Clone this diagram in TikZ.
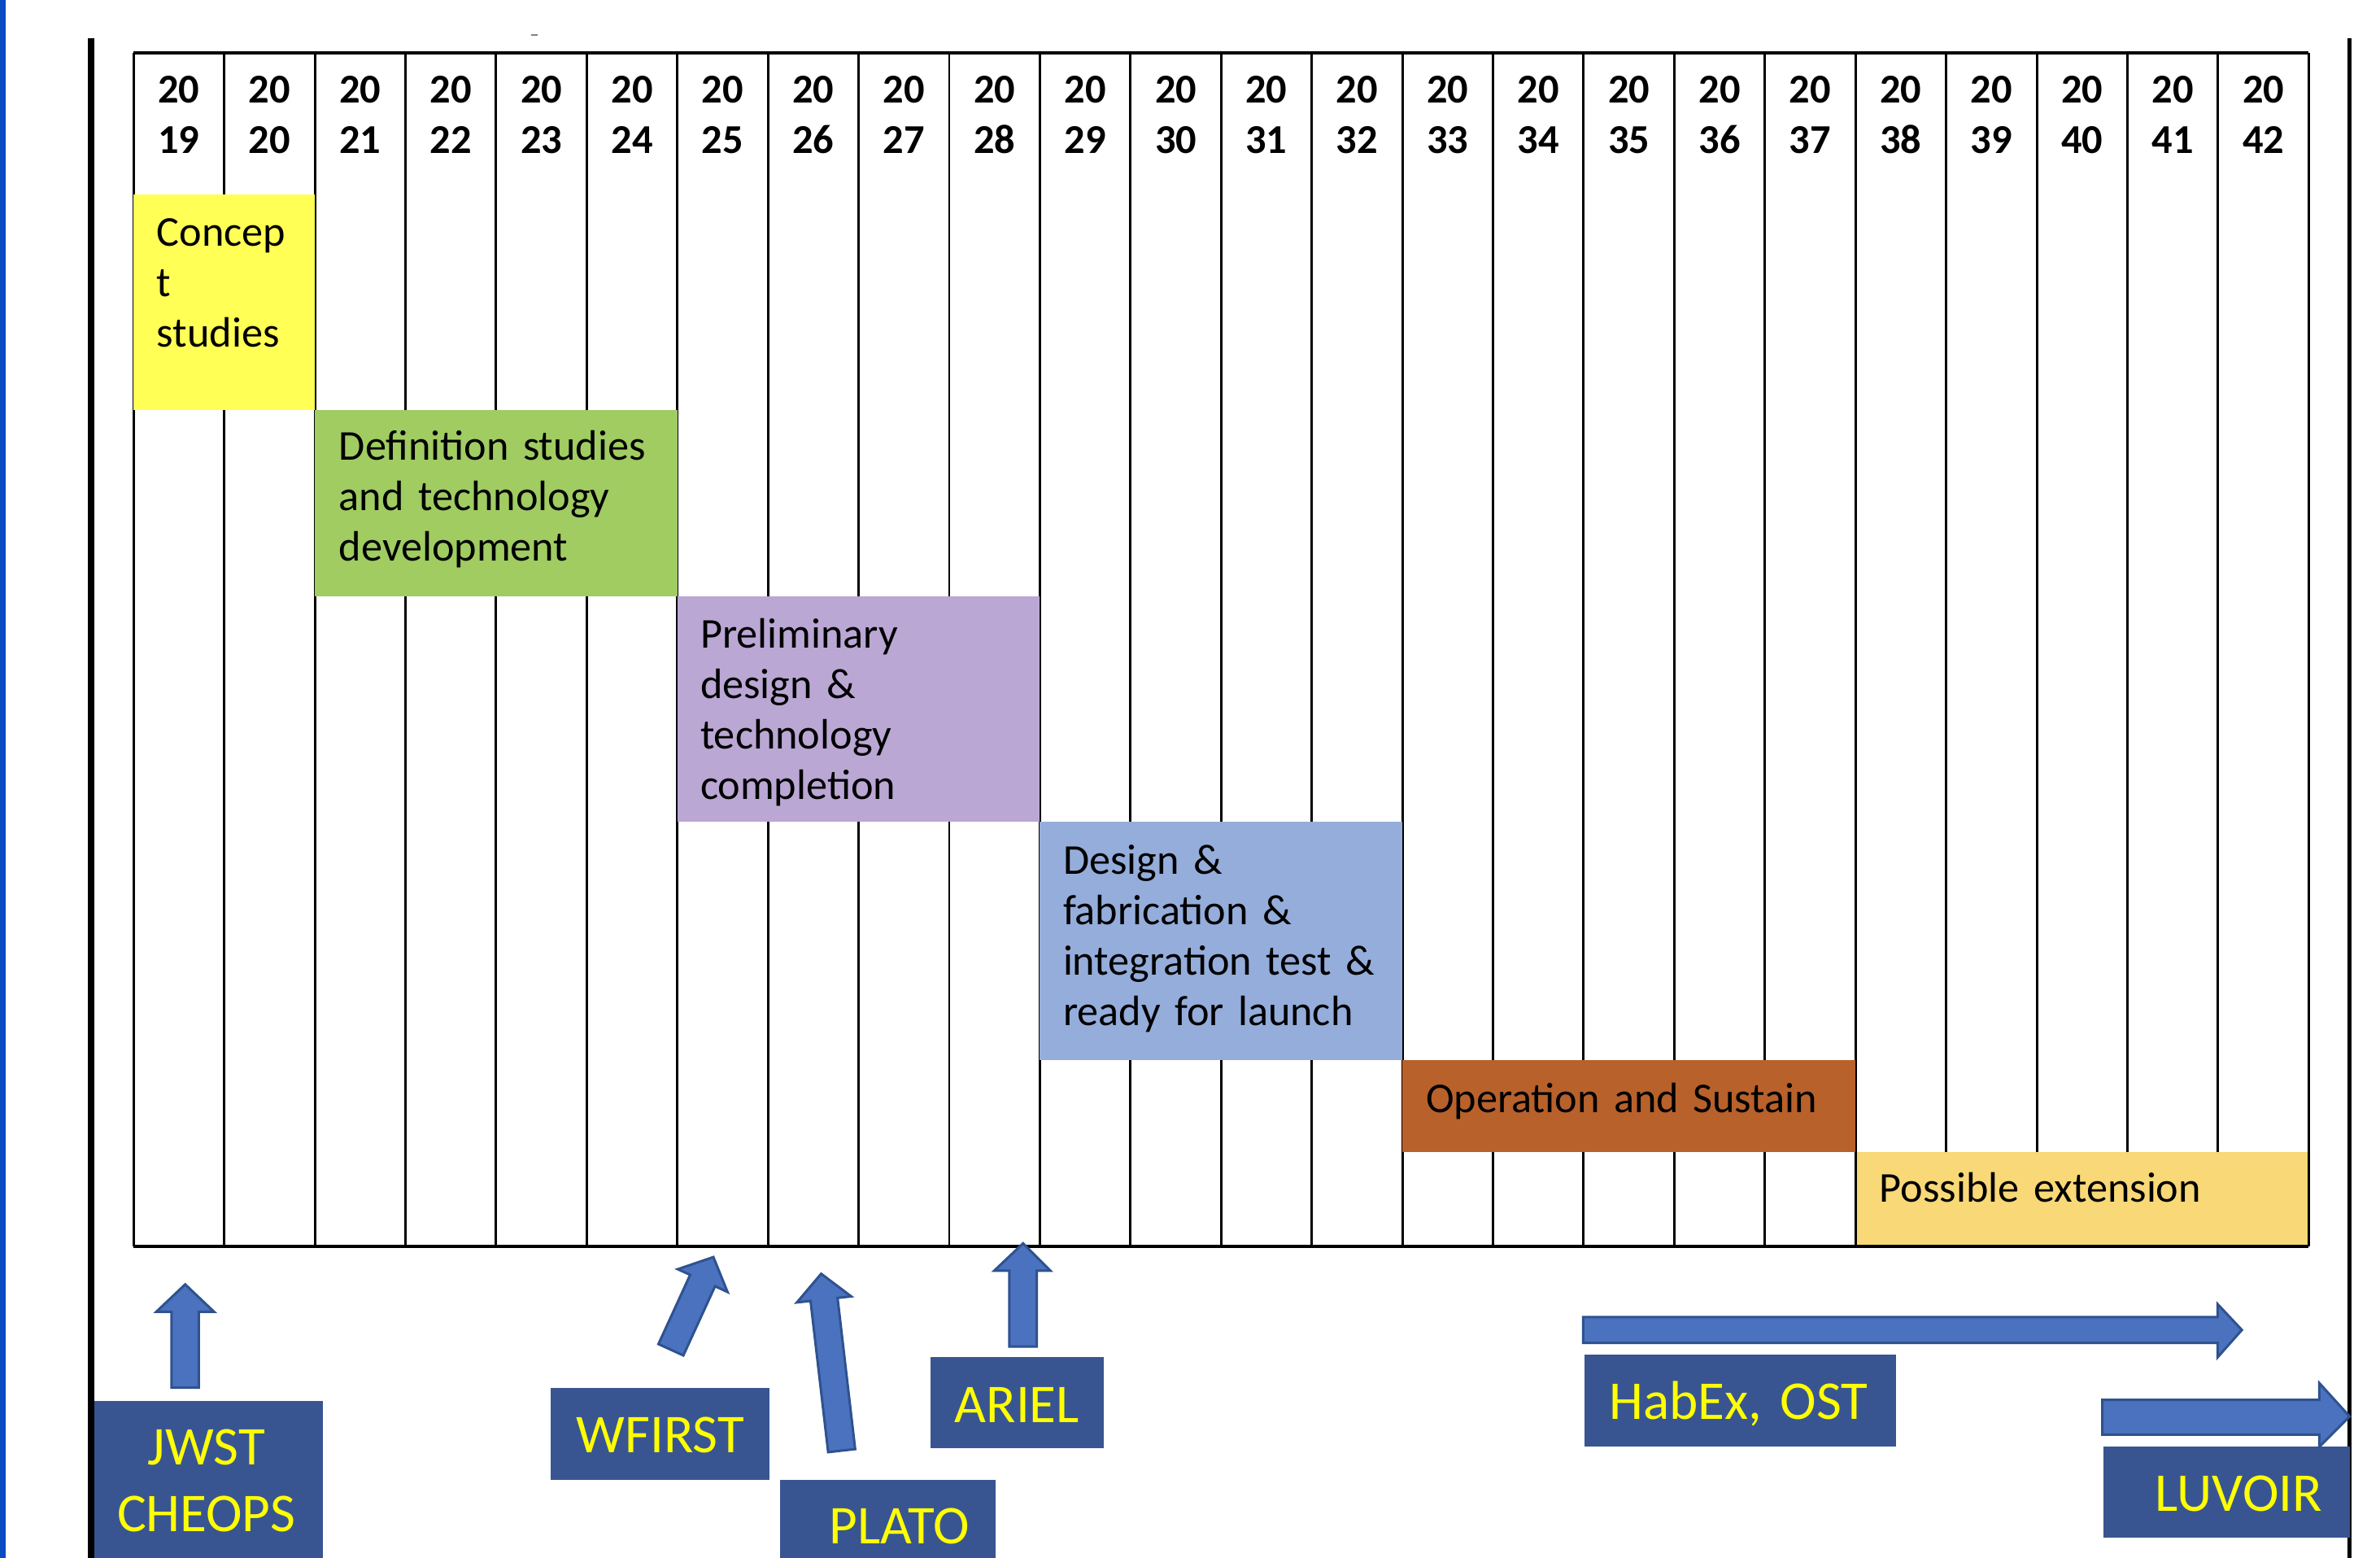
\documentclass[tikz,border=0pt]{standalone}
\usepackage{fontspec}
\setmainfont{Carlito}
\definecolor{edgeblue}{HTML}{0A4BC4}
\definecolor{cyel}{HTML}{FFFF55}
\definecolor{cgreen}{HTML}{A0CC62}
\definecolor{cpurple}{HTML}{BAA7D4}
\definecolor{cblue}{HTML}{95ADDB}
\definecolor{corange}{HTML}{B8612B}
\definecolor{clyel}{HTML}{F8D877}
\definecolor{boxblue}{HTML}{385592}
\definecolor{labyellow}{HTML}{FFFF00}
\definecolor{arrowfill}{HTML}{4A72BF}
\definecolor{arrowedge}{HTML}{2F528F}
\begin{document}
\begin{tikzpicture}[x=0.5pt,y=-0.5pt,
  gridline/.style={line width=0.8pt, black},
  borderline/.style={line width=1.1pt, black},
  yr/.style={anchor=base, inner sep=0pt, text width=22pt, align=center, font=\bfseries\fontsize{13.5}{16.5}\selectfont},
  phtxt/.style={anchor=base west, inner sep=0pt, text width=140pt, align=left, font=\fontsize{14}{16.6}\selectfont},
  mtxt/.style={anchor=base, inner sep=0pt, text width=100pt, align=center, text=labyellow, font=\fontsize{18}{22.2}\selectfont},
  barrow/.style={fill=arrowfill, draw=arrowedge, line width=0.8pt, line join=miter},
]
\useasboundingbox (0,0) rectangle (1568,1026);
\fill[white] (0,0) rectangle (1568,1026);
% frame lines
\fill[edgeblue] (0,0) rectangle (3.5,1026);
\draw[line width=2pt] (60,25) -- (60,1030);
\draw[line width=1.2pt] (1548,25) -- (1548,1030);
\draw[gray, line width=0.6pt] (350,23) -- (354,23);
% grid
\foreach \i in {0,...,24}
  \draw[gridline] ({88+59.708*\i},35) -- ({88+59.708*\i},821);
\foreach \i [evaluate=\i as \yy using int(19+\i)] in {0,...,23}
  \node[yr] (y\i) at ({88+59.708*(\i+0.5)},68) {20\\\yy};
% phases
\fill[cyel]    (88,128)    rectangle (207.4,270);
\fill[cgreen]  (207.4,270) rectangle (446.2,393);
\fill[cpurple] (446.2,393) rectangle (685.1,541);
\fill[cblue]   (685.1,541) rectangle (923.9,698);
\fill[corange] (923.9,698) rectangle (1222.5,759);
\fill[clyel]   (1222.5,759) rectangle (1521,821);
\draw[borderline] (88,35) -- (1521,35);
\draw[line width=1.3pt] (88,821) -- (1521,821);
\draw[gridline] (1521,35) -- (1521,821);
\draw[gridline] (1222.5,759) -- (1222.5,821);
\node[phtxt] (tconcept) at (103,162) {Concep\\t\\studies};
\node[phtxt] (tdef) at (223,303) {Definition studies\\and technology\\development};
\node[phtxt] (tprel) at (461,427) {Preliminary\\design \&\\technology\\completion};
\node[phtxt] (tdes) at (700,576) {Design \&\\fabrication \&\\integration test \&\\ready for launch};
\node[phtxt] (toper) at (939,733) {Operation and Sustain};
\node[phtxt] (tposs) at (1238,792) {Possible extension};
% mission boxes
\fill[boxblue] (62,923) rectangle (213,1030);
\fill[boxblue] (363,914) rectangle (507,975);
\fill[boxblue] (514,975) rectangle (656,1030);
\fill[boxblue] (613,894) rectangle (727,954);
\fill[boxblue] (1044,892) rectangle (1249,953);
\fill[boxblue] (1386,953) rectangle (1548,1013);
\node[mtxt] (jwst) at (136,964.6) {JWST\\CHEOPS};
\node[mtxt] (wfirst) at (435,957) {WFIRST};
\node[mtxt] (plato) at (592.5,1017) {PLATO};
\node[mtxt] (ariel) at (670,937) {ARIEL};
\node[mtxt] (habex) at (1145.5,935) {HabEx, OST};
\node[mtxt] (luvoir) at (1475,995.5) {LUVOIR};
% arrows
\filldraw[barrow] (113,914) -- (113,864) -- (103,864) -- (122,846) -- (141,864) -- (131,864) -- (131,914) -- cycle;
\filldraw[barrow] (665,887) -- (665,837) -- (655,837) -- (674,819) -- (692,837) -- (683,837) -- (683,887) -- cycle;
\filldraw[barrow] (433.8,885.3) -- (454.7,839.7) -- (446.5,836.0) -- (470,828) -- (479.3,851.0) -- (471.1,847.2) -- (450.2,892.8) -- cycle;
\filldraw[barrow] (545.6,956.5) -- (534.0,856.9) -- (525.0,857.9) -- (541,839) -- (560.8,853.9) -- (551.8,854.9) -- (563.4,954.5) -- cycle;
\filldraw[barrow] (1043,867.5) -- (1461,867.5) -- (1461,859) -- (1477,876) -- (1461,894) -- (1461,884.6) -- (1043,884.6) -- cycle;
\filldraw[barrow] (1385,922) -- (1528,922) -- (1528,911) -- (1548,933) -- (1528,953) -- (1528,945) -- (1385,945) -- cycle;
\end{tikzpicture}
\end{document}
